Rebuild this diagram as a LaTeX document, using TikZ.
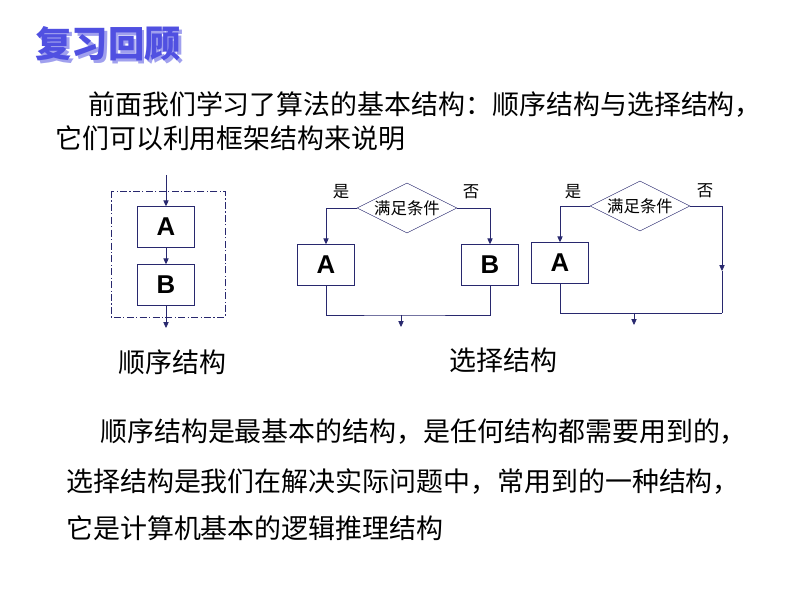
\documentclass[tikz,border=0pt]{standalone}
\usepackage{fontspec}
\setmainfont{Liberation Sans}
\newfontfamily\cjk{Noto Sans CJK SC}
\usetikzlibrary{shapes.geometric,arrows.meta,positioning}

\definecolor{linecol}{RGB}{40,40,110}
\definecolor{titleblue}{RGB}{80,80,225}
\definecolor{titleshade}{RGB}{160,160,238}

\tikzset{
  box/.style={draw=linecol, minimum width=1.71cm, minimum height=1.23cm, inner sep=0pt,
              font=\fontsize{22}{24}\selectfont\bfseries},
  cond/.style={diamond, draw=linecol, aspect=2, minimum width=3cm, minimum height=1.5cm,
               inner sep=0pt, font=\cjk\fontsize{14}{16}\selectfont},
  wire/.style={draw=linecol, line width=0.6pt},
  arr/.style={wire, -{Triangle[length=5pt,width=4.5pt]}},
  body/.style={anchor=west, inner sep=0pt, font=\cjk\fontsize{23}{26}\selectfont},
  yesno/.style={inner sep=0pt, font=\cjk\fontsize{14}{16}\selectfont},
}

\begin{document}
\begin{tikzpicture}[x=0.03cm, y=-0.03cm]
    \useasboundingbox (0,0) rectangle (800,600);

    % the title (shadow layer under the letters)
    \node[inner sep=0pt, text=titleblue, font=\cjk\bfseries\fontsize{31}{33}\selectfont] (title) at (108,45)
      {\makebox[0pt][l]{\kern2.5pt\raisebox{-2.5pt}{\color{titleshade}复习回顾}}复习回顾};

    % the texts
    \node[body] (intro1) at (88,105) {前面我们学习了算法的基本结构：顺序结构与选择结构，};
    \node[body] (intro2) at (55,138) {它们可以利用框架结构来说明};

    % sequence structure
    \draw[linecol, dash pattern=on 6pt off 2pt on 1pt off 2pt] (111,191) rectangle (225,317);
    \node[box] (sA) at (166,227) {A};
    \node[box] (sB) at (166,285) {B};
    \coordinate (sIn) at (166,175);
    \coordinate (sOut) at (166,328);
    \draw[arr] (sIn) -- (sA);
    \draw[arr] (sA) -- (sB);
    \draw[arr] (sB) -- (sOut);
    \node[body] (seqlabel) at (118,362) {顺序结构};

    % selection structure, two branches
    \node[cond] (mC) at (407,208) {满足条件};
    \node[box] (mA) at (326,265) {A};
    \node[box] (mB) at (490,265) {B};
    \node[yesno] (mYes) at (341,192) {是};
    \node[yesno] (mNo) at (471,192) {否};
    \coordinate (mJ) at (401,315);
    \coordinate (mOut) at (401,327);
    \draw[arr] (mC.west) -| (mA.north);
    \draw[arr] (mC.east) -| (mB.north);
    \draw[wire] (mA.south) |- (mJ) -| (mB.south);
    \draw[arr] (mJ) -- (mOut);

    % selection structure, one branch
    \node[cond] (rC) at (640,206) {满足条件};
    \node[box] (rA) at (560,263) {A};
    \node[yesno] (rYes) at (573,192) {是};
    \node[yesno] (rNo) at (705,191) {否};
    \coordinate (rM) at (722,271);
    \coordinate (rR) at (722,313);
    \coordinate (rJ) at (634,313);
    \coordinate (rOut) at (634,325);
    \draw[arr] (rC.west) -| (rA.north);
    \draw[arr] (rC.east) -| (rM);
    \draw[wire] (rM) -- (rR);
    \draw[wire] (rA.south) |- (rR);
    \draw[arr] (rJ) -- (rOut);
    \node[body] (sellabel) at (449,360) {选择结构};

    % closing remarks
    \node[body] (rem1) at (100,432) {顺序结构是最基本的结构，是任何结构都需要用到的，};
    \node[body] (rem2) at (66,482) {选择结构是我们在解决实际问题中，常用到的一种结构，};
    \node[body] (rem3) at (66,528) {它是计算机基本的逻辑推理结构};
\end{tikzpicture}
\end{document}
